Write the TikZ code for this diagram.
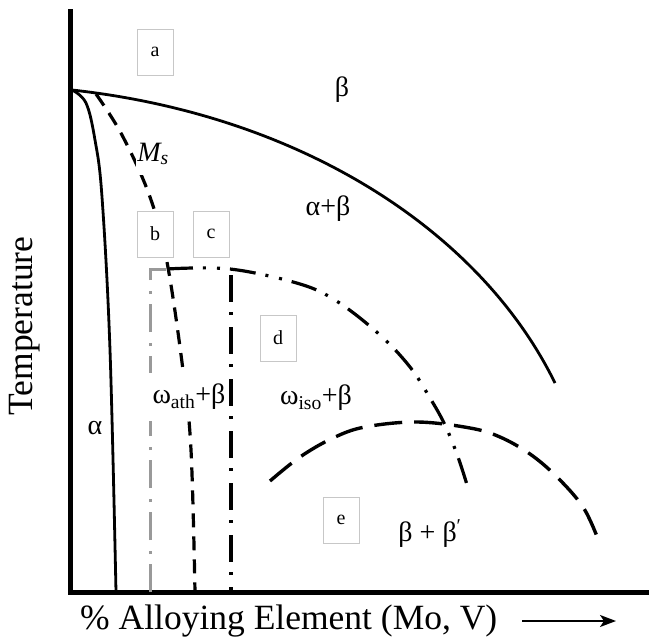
\documentclass[tikz,border=0pt]{standalone}
\usepackage{fontspec}
\setmainfont{Liberation Serif}
\usetikzlibrary{arrows.meta}
\begin{document}
\begin{tikzpicture}[x=1pt,y=-1pt,
  axisline/.style={line width=5pt},
  solidphase/.style={line width=2.8pt},
  msline/.style={line width=3.2pt, dash pattern=on 14pt off 9pt},
  grayline/.style={line width=3pt, draw=black!40, dash pattern=on 28pt off 10pt on 3pt off 11pt},
  dashdotline/.style={line width=3.2pt, dash pattern=on 27pt off 10pt on 3pt off 12pt},
  dashdotdotline/.style={line width=3.2pt, dash pattern=on 26pt off 10pt on 3pt off 11pt on 3pt off 10pt},
  arcline/.style={line width=3.4pt, dash pattern=on 28pt off 12pt},
  boxlbl/.style={draw=black!22, line width=1pt, fill=white, minimum width=36pt, minimum height=46pt, inner sep=0pt, font=\fontsize{20}{22}\selectfont},
  region/.style={font=\fontsize{28}{30}\selectfont, inner sep=2pt},
  whitelbl/.style={region, fill=white},
  axislabel/.style={font=\fontsize{35.5}{38}\selectfont, inner sep=0pt}]
\useasboundingbox (0,0) rectangle (649,640);
% axes
\coordinate (ytop) at (70,9);
\coordinate (origin) at (70,592);
\coordinate (xend) at (649,592);
\draw[axisline] (ytop) -- (origin) -- (xend);
% beta transus curve
\coordinate (top) at (72,90);
\coordinate (transend) at (555,383);
\draw[solidphase] (top) .. controls (300,115) and (480,230) .. (transend);
% alpha boundary
\draw[solidphase] plot[smooth, tension=0.6] coordinates {(72,90) (86,103) (95,140) (102,197) (110,350) (116,592)};
% Ms line
\draw[msline] plot[smooth, tension=0.6] coordinates {(96,94) (122,135) (150,197) (167,262) (183,370) (191,450) (195,592)};
% gray dash-dot line b
\coordinate (bbot) at (150,592);
\coordinate (bcorner) at (150,269);
\coordinate (bend) at (166,269);
\draw[grayline] (bbot) -- (bcorner) -- (bend);
% dash-dot line c
\coordinate (ctop) at (231,275);
\coordinate (cbot) at (231,592);
\draw[dashdotline] (ctop) -- (cbot);
% omega_iso solvus (dash-dot-dot)
\draw[dashdotdotline] plot[smooth, tension=0.6] coordinates {(167,269) (230,269) (300,284) (338,302) (380,335) (410,367) (430,398) (445,425) (458,457) (468,488)};
% beta + beta' miscibility gap
\draw[arcline] plot[smooth, tension=0.6] coordinates {(270,481) (300,457) (333,438) (365,427) (417,422) (470,428) (500,437) (530,454) (557,477) (583,507) (598,539)};
% region labels
\node[region] (lbeta) at (342,90) {β};
\node[region] (lab) at (328,209) {α+β};
\node[region] (lalpha) at (95,428) {α};
\node[whitelbl, inner xsep=1pt, inner ysep=10pt] (lms) at (153,154) {\textit{M\textsubscript{s}}};
\node[whitelbl, inner xsep=4pt, inner ysep=11pt] (lath) at (189,397) {ω\textsubscript{ath}+β};
\node[region] (liso) at (316,398) {ω\textsubscript{iso}+β};
\node[region] (lbb) at (430,534) {β + β\textsuperscript{′}};
% boxes
\node[boxlbl] (ba) at (155,52) {a};
\node[boxlbl] (bb) at (155,234) {b};
\node[boxlbl] (bc) at (211,234) {c};
\node[boxlbl] (bd) at (278,338) {d};
\node[boxlbl] (be) at (341,520) {e};
% axis labels
\node[axislabel, rotate=90] (ylab) at (25,326) {Temperature};
\node[axislabel, anchor=west] (xlab) at (80,621) {\% Alloying Element (Mo, V)};
\coordinate (arrs) at (522,621);
\coordinate (arre) at (616,621);
\draw[line width=1.8pt, -{Stealth[length=16pt, width=12pt, inset=4pt]}] (arrs) -- (arre);
\end{tikzpicture}
\end{document}
